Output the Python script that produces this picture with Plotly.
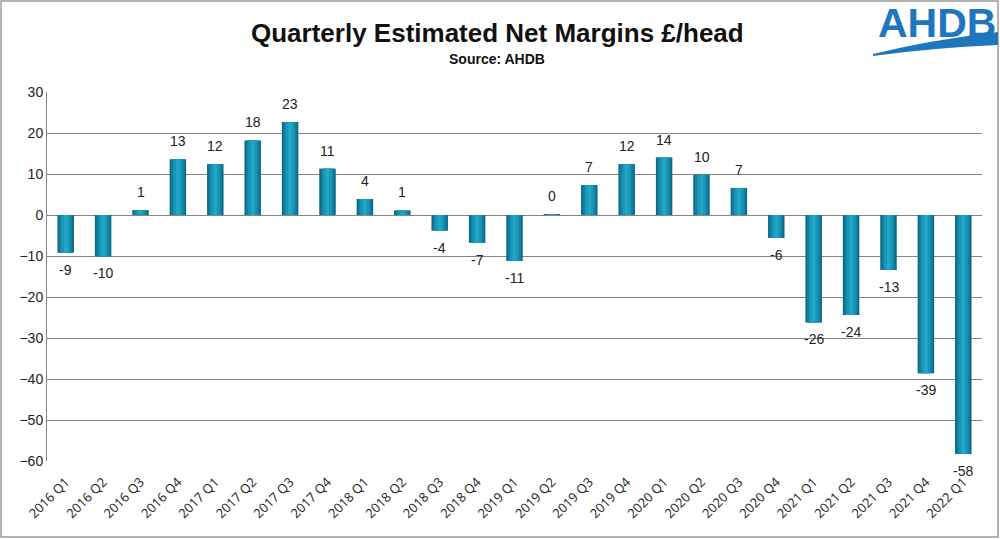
import plotly.graph_objects as go

quarters = ["2016 Q1","2016 Q2","2016 Q3","2016 Q4","2017 Q1","2017 Q2","2017 Q3","2017 Q4",
            "2018 Q1","2018 Q2","2018 Q3","2018 Q4","2019 Q1","2019 Q2","2019 Q3","2019 Q4",
            "2020 Q1","2020 Q2","2020 Q3","2020 Q4","2021 Q1","2021 Q2","2021 Q3","2021 Q4","2022 Q1"]
margins = [-9.2, -10.1, 1.2, 13.6, 12.4, 18.2, 22.7, 11.3, 3.9, 1.1, -3.8, -6.8, -11.2, 0.2,
           7.3, 12.4, 14.0, 9.8, 6.6, -5.6, -26.2, -24.4, -13.4, -38.6, -58.3]
labels = ["-9","-10","1","13","12","18","23","11","4","1","-4","-7","-11","0",
          "7","12","14","10","7","-6","-26","-24","-13","-39","-58"]
yticks = [30, 20, 10, 0, -10, -20, -30, -40, -50, -60]

W, H = 1000, 539
L, R, T, B = 47, 982, 92, 461

def px(x):
    return (x - L) / (R - L)

def py(y):
    return (B - y) / (B - T)

fig = go.Figure()
# cylinder-like shading built from overlaid bars
for w, c in [(0.44, "#0b6680"), (0.36, "#1281a0"), (0.24, "#1896b7"), (0.1, "#22a6c6")]:
    fig.add_trace(go.Bar(x=quarters, y=margins, width=w, marker=dict(color=c, line=dict(width=0)),
                         hoverinfo="skip", showlegend=False))

annotations = []
for q, v, t in zip(quarters, margins, labels):
    annotations.append(dict(x=q, y=v, text=t, showarrow=False, xanchor="center", yanchor="middle",
                            yshift=18 if v >= 0 else -17,
                            font=dict(family="Liberation Sans", size=14, color="#222222")))

annotations += [
    dict(text="<b>Quarterly Estimated Net Margins £/head</b>", xref="paper", yref="paper",
         x=px(497), y=py(33), xanchor="center", yanchor="middle", showarrow=False,
         font=dict(family="Liberation Sans", size=26, color="#111111")),
    dict(text="<b>Source: AHDB</b>", xref="paper", yref="paper",
         x=px(497), y=py(59), xanchor="center", yanchor="middle", showarrow=False,
         font=dict(family="Liberation Sans", size=14, color="#111111")),
    dict(text="<b>AHDB</b>", xref="paper", yref="paper",
         x=px(937), y=py(23), xanchor="center", yanchor="middle", showarrow=False,
         font=dict(family="Liberation Sans", size=41, color="#1e77bd")),
]

fig.update_layout(
    width=W, height=H,
    margin=dict(l=L, r=W - R, t=T, b=H - B),
    paper_bgcolor="white", plot_bgcolor="white",
    barmode="overlay",
    font=dict(family="Liberation Sans", color="#222222"),
    xaxis=dict(type="category", range=[-0.5, 24.5], tickangle=-45, showgrid=False, showline=False,
               ticks="", ticklabelstandoff=10,
               tickfont=dict(family="Open Sans", size=13, color="#222222"), zeroline=False),
    yaxis=dict(range=[-60, 30], tickvals=yticks, showgrid=True, gridcolor="#858585", gridwidth=1,
               zeroline=True, zerolinecolor="#858585", zerolinewidth=1,
               showline=True, linecolor="#858585", linewidth=1, ticks="",
               tickfont=dict(family="Liberation Sans", size=14, color="#222222")),
    annotations=annotations,
    shapes=[
        dict(type="rect", xref="paper", yref="paper", x0=px(1), x1=px(998), y0=py(537), y1=py(1),
             line=dict(color="#9a9a9a", width=1.5), fillcolor="rgba(0,0,0,0)", layer="below"),
        dict(type="path", xref="paper", yref="paper",
             path=(f"M {px(873)} {py(54)} "
                   f"Q {px(930)} {py(40)} {px(998)} {py(32)} "
                   f"L {px(998)} {py(45)} "
                   f"Q {px(930)} {py(48)} {px(873)} {py(56)} Z"),
             fillcolor="#1e77bd", line=dict(width=0)),
    ],
)

fig.write_html("out.html", config={"displayModeBar": False},
               post_script="document.body.style.margin='0';")
